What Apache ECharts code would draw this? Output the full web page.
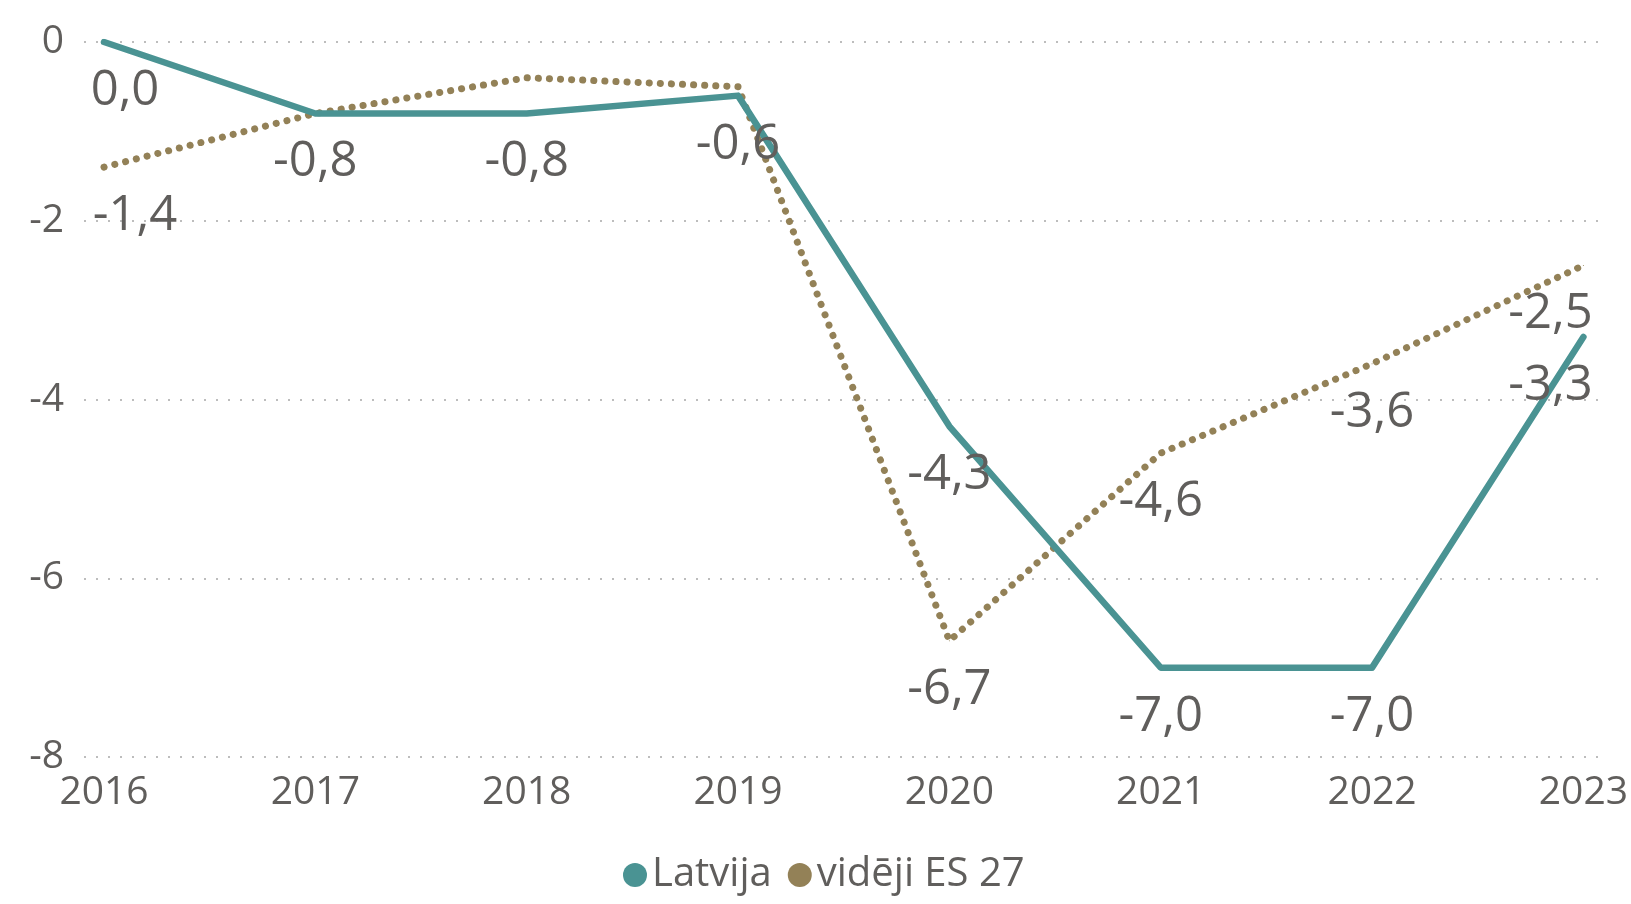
<!DOCTYPE html>
<html>
<head>
<meta charset="utf-8">
<script src="https://cdn.jsdelivr.net/npm/echarts@6/dist/echarts.min.js"></script>
<style>
  html, body { margin: 0; padding: 0; background: #fff; }
  #chart { width: 1631px; height: 904px; }
</style>
</head>
<body>
<div id="chart"></div>
<script>
'use strict';

var years = ['2016', '2017', '2018', '2019', '2020', '2021', '2022', '2023'];
var latvija = [0.0, -0.8, -0.8, -0.6, -4.3, -7.0, -7.0, -3.3];
var esVid = [-1.4, -0.8, -0.4, -0.5, -6.7, -4.6, -3.6, -2.5];
var yTicks = [0, -2, -4, -6, -8];

var textColor = '#605E5C';
var font = '"Open Sans", "Noto Sans", sans-serif';

// label tweaks per point (Power BI keeps labels inside the plot, hides overlaps)
var latvijaLabelDx = [21, 0, 0, 0, 0, 0, 0, -33];
var esLabelDx = [31, 0, 0, 0, 0, 0, 0, -33];
var esLabelShow = [true, false, false, false, true, true, true, true];

function buildData(values, dx, show) {
    return values.map(function (v, i) {
        return {
            value: v,
            label: {
                show: show ? show[i] : true,
                offset: [dx[i], 0]
            }
        };
    });
}

var labelStyle = {
    show: true,
    position: 'bottom',
    distance: 24,
    fontFamily: font,
    fontSize: 49,
    fontWeight: 'normal',
    color: textColor,
    formatter: function (p) {
        return p.value.toFixed(1).replace('.', ',');
    }
};

var myChart = echarts.init(document.getElementById('chart'));
var option = {
    backgroundColor: '#fff',
    animation: false,
    textStyle: { fontFamily: font },
    legend: {
        left: 618,
        top: 850,
        icon: 'circle',
        itemWidth: 24,
        itemHeight: 24,
        itemGap: 16,
        textStyle: {
            fontFamily: font,
            fontSize: 40,
            color: textColor
        },
        data: ['Latvija', 'vidēji ES 27']
    },
    grid: [
        { left: 104, right: 43, top: 42, bottom: 147 },
        // only for the gridlines, which reach a bit past the data
        { left: 84, right: 24, top: 42, bottom: 147 }
    ],
    xAxis: [{
        gridIndex: 0,
        type: 'category',
        boundaryGap: false,
        data: years,
        axisLine: { show: false },
        axisTick: { show: false },
        splitLine: { show: false },
        axisLabel: {
            margin: 16,
            fontFamily: font,
            fontSize: 39,
            color: textColor
        }
    }, {
        gridIndex: 1,
        type: 'value',
        show: false
    }],
    yAxis: [{
        gridIndex: 0,
        type: 'value',
        min: -8,
        max: 0,
        interval: 2,
        axisLine: { show: false },
        axisTick: { show: false },
        splitLine: { show: false },
        axisLabel: { show: false }
    }, {
        gridIndex: 1,
        type: 'value',
        min: -8,
        max: 0,
        interval: 2,
        axisLine: { show: false },
        axisTick: { show: false },
        axisLabel: {
            margin: 20,
            fontFamily: font,
            fontSize: 39,
            color: textColor,
            formatter: function (v) {
                return yTicks.indexOf(v) >= 0 ? String(v) : '';
            }
        },
        splitLine: {
            lineStyle: { color: '#BDBDBD', width: 2, type: [2, 10] }
        }
    }],
    series: [{
        name: 'Latvija',
        type: 'line',
        xAxisIndex: 0,
        yAxisIndex: 0,
        data: buildData(latvija, latvijaLabelDx),
        symbol: 'circle',
        symbolSize: 1,
        itemStyle: { color: '#4A9393' },
        lineStyle: { color: '#4A9393', width: 6.5, cap: 'round', join: 'round' },
        label: labelStyle,
        z: 3
    }, {
        name: 'vidēji ES 27',
        type: 'line',
        xAxisIndex: 0,
        yAxisIndex: 0,
        data: buildData(esVid, esLabelDx, esLabelShow),
        symbol: 'circle',
        symbolSize: 1,
        itemStyle: { color: '#938157' },
        lineStyle: { color: '#938157', width: 7, type: [0.1, 11], cap: 'round' },
        label: labelStyle,
        z: 2
    }]
};
myChart.setOption(option);
myChart.resize();
</script>
</body>
</html>
